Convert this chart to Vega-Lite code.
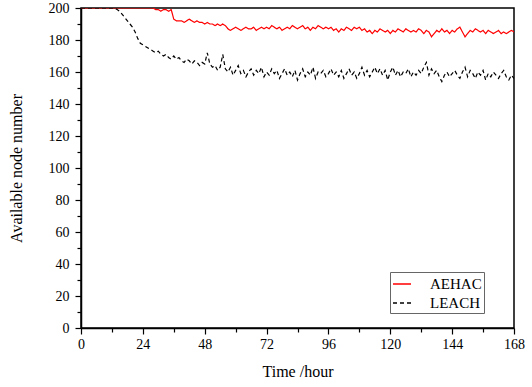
{
  "$schema": "https://vega.github.io/schema/vega-lite/v6.json",
  "autosize": "none",
  "width": 433,
  "height": 320,
  "padding": {"left": 81, "top": 8, "right": 18, "bottom": 59},
  "background": "white",
  "config": {
    "font": "Liberation Serif",
    "view": {"stroke": "black", "strokeWidth": 1.5},
    "axis": {"grid": false, "labelFlush": false, "labelOverlap": false, "domainColor": "black", "domainWidth": 1.5, "tickColor": "black", "tickWidth": 1.2, "labelColor": "black", "titleColor": "black", "labelFont": "Liberation Serif", "titleFont": "Liberation Serif", "labelFontSize": 14, "titleFontSize": 16, "titleFontWeight": "normal"}
  },
  "data": {"values": [
    {"t":0,"n":200,"s":"AEHAC"},{"t":28,"n":200,"s":"AEHAC"},{"t":29,"n":199,"s":"AEHAC"},{"t":30,"n":199,"s":"AEHAC"},{"t":31,"n":198,"s":"AEHAC"},{"t":32,"n":199,"s":"AEHAC"},{"t":33,"n":199,"s":"AEHAC"},{"t":34,"n":198,"s":"AEHAC"},{"t":35,"n":199,"s":"AEHAC"},
    {"t":36,"n":193,"s":"AEHAC"},{"t":37,"n":192,"s":"AEHAC"},{"t":38,"n":192,"s":"AEHAC"},{"t":39,"n":192,"s":"AEHAC"},{"t":40,"n":191,"s":"AEHAC"},{"t":41,"n":192,"s":"AEHAC"},{"t":42,"n":193,"s":"AEHAC"},{"t":43,"n":192,"s":"AEHAC"},{"t":44,"n":191,"s":"AEHAC"},{"t":45,"n":192,"s":"AEHAC"},
    {"t":46,"n":191,"s":"AEHAC"},{"t":47,"n":191,"s":"AEHAC"},{"t":48,"n":190,"s":"AEHAC"},{"t":49,"n":191,"s":"AEHAC"},{"t":50,"n":190,"s":"AEHAC"},{"t":51,"n":190,"s":"AEHAC"},{"t":52,"n":189,"s":"AEHAC"},{"t":53,"n":190,"s":"AEHAC"},{"t":54,"n":189,"s":"AEHAC"},{"t":55,"n":190,"s":"AEHAC"},
    {"t":56,"n":189,"s":"AEHAC"},{"t":57,"n":187,"s":"AEHAC"},{"t":58,"n":186,"s":"AEHAC"},{"t":59,"n":187,"s":"AEHAC"},{"t":60,"n":188,"s":"AEHAC"},{"t":61,"n":187,"s":"AEHAC"},{"t":62,"n":186,"s":"AEHAC"},{"t":63,"n":187,"s":"AEHAC"},{"t":64,"n":188,"s":"AEHAC"},{"t":65,"n":187,"s":"AEHAC"},
    {"t":66,"n":187,"s":"AEHAC"},{"t":67,"n":188,"s":"AEHAC"},{"t":68,"n":186,"s":"AEHAC"},{"t":69,"n":187,"s":"AEHAC"},{"t":70,"n":188,"s":"AEHAC"},{"t":71,"n":187,"s":"AEHAC"},{"t":72,"n":188,"s":"AEHAC"},{"t":73,"n":187,"s":"AEHAC"},{"t":74,"n":189,"s":"AEHAC"},{"t":75,"n":188,"s":"AEHAC"},
    {"t":76,"n":187,"s":"AEHAC"},{"t":77,"n":188,"s":"AEHAC"},{"t":78,"n":186,"s":"AEHAC"},{"t":79,"n":187,"s":"AEHAC"},{"t":80,"n":188,"s":"AEHAC"},{"t":81,"n":187,"s":"AEHAC"},{"t":82,"n":189,"s":"AEHAC"},{"t":83,"n":188,"s":"AEHAC"},{"t":84,"n":187,"s":"AEHAC"},{"t":85,"n":188,"s":"AEHAC"},
    {"t":86,"n":189,"s":"AEHAC"},{"t":87,"n":187,"s":"AEHAC"},{"t":88,"n":188,"s":"AEHAC"},{"t":89,"n":186,"s":"AEHAC"},{"t":90,"n":188,"s":"AEHAC"},{"t":91,"n":187,"s":"AEHAC"},{"t":92,"n":189,"s":"AEHAC"},{"t":93,"n":188,"s":"AEHAC"},{"t":94,"n":187,"s":"AEHAC"},{"t":95,"n":188,"s":"AEHAC"},
    {"t":96,"n":187,"s":"AEHAC"},{"t":97,"n":188,"s":"AEHAC"},{"t":98,"n":186,"s":"AEHAC"},{"t":99,"n":187,"s":"AEHAC"},{"t":100,"n":185,"s":"AEHAC"},{"t":101,"n":187,"s":"AEHAC"},{"t":102,"n":186,"s":"AEHAC"},{"t":103,"n":188,"s":"AEHAC"},{"t":104,"n":187,"s":"AEHAC"},{"t":105,"n":186,"s":"AEHAC"},
    {"t":106,"n":188,"s":"AEHAC"},{"t":107,"n":187,"s":"AEHAC"},{"t":108,"n":188,"s":"AEHAC"},{"t":109,"n":186,"s":"AEHAC"},{"t":110,"n":187,"s":"AEHAC"},{"t":111,"n":185,"s":"AEHAC"},{"t":112,"n":186,"s":"AEHAC"},{"t":113,"n":184,"s":"AEHAC"},{"t":114,"n":186,"s":"AEHAC"},{"t":115,"n":185,"s":"AEHAC"},
    {"t":116,"n":187,"s":"AEHAC"},{"t":117,"n":186,"s":"AEHAC"},{"t":118,"n":185,"s":"AEHAC"},{"t":119,"n":186,"s":"AEHAC"},{"t":120,"n":184,"s":"AEHAC"},{"t":121,"n":186,"s":"AEHAC"},{"t":122,"n":185,"s":"AEHAC"},{"t":123,"n":187,"s":"AEHAC"},{"t":124,"n":186,"s":"AEHAC"},{"t":125,"n":185,"s":"AEHAC"},
    {"t":126,"n":187,"s":"AEHAC"},{"t":127,"n":186,"s":"AEHAC"},{"t":128,"n":185,"s":"AEHAC"},{"t":129,"n":186,"s":"AEHAC"},{"t":130,"n":185,"s":"AEHAC"},{"t":131,"n":187,"s":"AEHAC"},{"t":132,"n":186,"s":"AEHAC"},{"t":133,"n":184,"s":"AEHAC"},{"t":134,"n":186,"s":"AEHAC"},{"t":135,"n":185,"s":"AEHAC"},
    {"t":136,"n":182,"s":"AEHAC"},{"t":137,"n":184,"s":"AEHAC"},{"t":138,"n":186,"s":"AEHAC"},{"t":139,"n":185,"s":"AEHAC"},{"t":140,"n":187,"s":"AEHAC"},{"t":141,"n":185,"s":"AEHAC"},{"t":142,"n":186,"s":"AEHAC"},{"t":143,"n":184,"s":"AEHAC"},{"t":144,"n":186,"s":"AEHAC"},{"t":145,"n":185,"s":"AEHAC"},
    {"t":146,"n":187,"s":"AEHAC"},{"t":147,"n":188,"s":"AEHAC"},{"t":148,"n":185,"s":"AEHAC"},{"t":149,"n":182,"s":"AEHAC"},{"t":150,"n":184,"s":"AEHAC"},{"t":151,"n":186,"s":"AEHAC"},{"t":152,"n":185,"s":"AEHAC"},{"t":153,"n":187,"s":"AEHAC"},{"t":154,"n":186,"s":"AEHAC"},{"t":155,"n":185,"s":"AEHAC"},
    {"t":156,"n":186,"s":"AEHAC"},{"t":157,"n":184,"s":"AEHAC"},{"t":158,"n":186,"s":"AEHAC"},{"t":159,"n":185,"s":"AEHAC"},{"t":160,"n":184,"s":"AEHAC"},{"t":161,"n":185,"s":"AEHAC"},{"t":162,"n":186,"s":"AEHAC"},{"t":163,"n":184,"s":"AEHAC"},{"t":164,"n":185,"s":"AEHAC"},{"t":165,"n":184,"s":"AEHAC"},
    {"t":166,"n":185,"s":"AEHAC"},{"t":167,"n":186,"s":"AEHAC"},{"t":168,"n":185,"s":"AEHAC"},
    {"t":0,"n":200,"s":"LEACH"},{"t":13,"n":200,"s":"LEACH"},{"t":14,"n":199,"s":"LEACH"},{"t":15,"n":198,"s":"LEACH"},{"t":16,"n":196,"s":"LEACH"},{"t":17,"n":194,"s":"LEACH"},{"t":18,"n":192,"s":"LEACH"},{"t":19,"n":190,"s":"LEACH"},{"t":20,"n":188,"s":"LEACH"},{"t":21,"n":185,"s":"LEACH"},
    {"t":22,"n":181,"s":"LEACH"},{"t":23,"n":178,"s":"LEACH"},{"t":24,"n":177,"s":"LEACH"},{"t":25,"n":176,"s":"LEACH"},{"t":26,"n":175,"s":"LEACH"},{"t":27,"n":174,"s":"LEACH"},{"t":28,"n":173,"s":"LEACH"},{"t":29,"n":172,"s":"LEACH"},{"t":30,"n":173,"s":"LEACH"},{"t":31,"n":171,"s":"LEACH"},
    {"t":32,"n":170,"s":"LEACH"},{"t":33,"n":171,"s":"LEACH"},{"t":34,"n":169,"s":"LEACH"},{"t":35,"n":168,"s":"LEACH"},{"t":36,"n":170,"s":"LEACH"},{"t":37,"n":168,"s":"LEACH"},{"t":38,"n":169,"s":"LEACH"},{"t":39,"n":167,"s":"LEACH"},{"t":40,"n":166,"s":"LEACH"},{"t":41,"n":168,"s":"LEACH"},
    {"t":42,"n":167,"s":"LEACH"},{"t":43,"n":165,"s":"LEACH"},{"t":44,"n":167,"s":"LEACH"},{"t":45,"n":166,"s":"LEACH"},{"t":46,"n":164,"s":"LEACH"},{"t":47,"n":166,"s":"LEACH"},{"t":48,"n":165,"s":"LEACH"},{"t":49,"n":172,"s":"LEACH"},{"t":50,"n":165,"s":"LEACH"},{"t":51,"n":163,"s":"LEACH"},
    {"t":52,"n":164,"s":"LEACH"},{"t":53,"n":161,"s":"LEACH"},{"t":54,"n":163,"s":"LEACH"},{"t":55,"n":171,"s":"LEACH"},{"t":56,"n":162,"s":"LEACH"},{"t":57,"n":160,"s":"LEACH"},{"t":58,"n":163,"s":"LEACH"},{"t":59,"n":158,"s":"LEACH"},{"t":60,"n":161,"s":"LEACH"},{"t":61,"n":164,"s":"LEACH"},
    {"t":62,"n":159,"s":"LEACH"},{"t":63,"n":161,"s":"LEACH"},{"t":64,"n":157,"s":"LEACH"},{"t":65,"n":160,"s":"LEACH"},{"t":66,"n":162,"s":"LEACH"},{"t":67,"n":158,"s":"LEACH"},{"t":68,"n":161,"s":"LEACH"},{"t":69,"n":159,"s":"LEACH"},{"t":70,"n":163,"s":"LEACH"},{"t":71,"n":157,"s":"LEACH"},
    {"t":72,"n":160,"s":"LEACH"},{"t":73,"n":158,"s":"LEACH"},{"t":74,"n":162,"s":"LEACH"},{"t":75,"n":159,"s":"LEACH"},{"t":76,"n":161,"s":"LEACH"},{"t":77,"n":156,"s":"LEACH"},{"t":78,"n":159,"s":"LEACH"},{"t":79,"n":162,"s":"LEACH"},{"t":80,"n":158,"s":"LEACH"},{"t":81,"n":160,"s":"LEACH"},
    {"t":82,"n":157,"s":"LEACH"},{"t":83,"n":161,"s":"LEACH"},{"t":84,"n":155,"s":"LEACH"},{"t":85,"n":159,"s":"LEACH"},{"t":86,"n":162,"s":"LEACH"},{"t":87,"n":157,"s":"LEACH"},{"t":88,"n":160,"s":"LEACH"},{"t":89,"n":158,"s":"LEACH"},{"t":90,"n":163,"s":"LEACH"},{"t":91,"n":156,"s":"LEACH"},
    {"t":92,"n":160,"s":"LEACH"},{"t":93,"n":159,"s":"LEACH"},{"t":94,"n":161,"s":"LEACH"},{"t":95,"n":157,"s":"LEACH"},{"t":96,"n":159,"s":"LEACH"},{"t":97,"n":162,"s":"LEACH"},{"t":98,"n":158,"s":"LEACH"},{"t":99,"n":160,"s":"LEACH"},{"t":100,"n":157,"s":"LEACH"},{"t":101,"n":161,"s":"LEACH"},
    {"t":102,"n":156,"s":"LEACH"},{"t":103,"n":159,"s":"LEACH"},{"t":104,"n":162,"s":"LEACH"},{"t":105,"n":158,"s":"LEACH"},{"t":106,"n":160,"s":"LEACH"},{"t":107,"n":156,"s":"LEACH"},{"t":108,"n":159,"s":"LEACH"},{"t":109,"n":163,"s":"LEACH"},{"t":110,"n":158,"s":"LEACH"},{"t":111,"n":161,"s":"LEACH"},
    {"t":112,"n":157,"s":"LEACH"},{"t":113,"n":160,"s":"LEACH"},{"t":114,"n":163,"s":"LEACH"},{"t":115,"n":159,"s":"LEACH"},{"t":116,"n":162,"s":"LEACH"},{"t":117,"n":158,"s":"LEACH"},{"t":118,"n":161,"s":"LEACH"},{"t":119,"n":155,"s":"LEACH"},{"t":120,"n":160,"s":"LEACH"},{"t":121,"n":163,"s":"LEACH"},
    {"t":122,"n":158,"s":"LEACH"},{"t":123,"n":161,"s":"LEACH"},{"t":124,"n":157,"s":"LEACH"},{"t":125,"n":160,"s":"LEACH"},{"t":126,"n":159,"s":"LEACH"},{"t":127,"n":162,"s":"LEACH"},{"t":128,"n":157,"s":"LEACH"},{"t":129,"n":160,"s":"LEACH"},{"t":130,"n":158,"s":"LEACH"},{"t":131,"n":161,"s":"LEACH"},
    {"t":132,"n":159,"s":"LEACH"},{"t":133,"n":163,"s":"LEACH"},{"t":134,"n":166,"s":"LEACH"},{"t":135,"n":158,"s":"LEACH"},{"t":136,"n":162,"s":"LEACH"},{"t":137,"n":159,"s":"LEACH"},{"t":138,"n":161,"s":"LEACH"},{"t":139,"n":157,"s":"LEACH"},{"t":140,"n":154,"s":"LEACH"},{"t":141,"n":158,"s":"LEACH"},
    {"t":142,"n":160,"s":"LEACH"},{"t":143,"n":157,"s":"LEACH"},{"t":144,"n":159,"s":"LEACH"},{"t":145,"n":161,"s":"LEACH"},{"t":146,"n":158,"s":"LEACH"},{"t":147,"n":156,"s":"LEACH"},{"t":148,"n":160,"s":"LEACH"},{"t":149,"n":163,"s":"LEACH"},{"t":150,"n":157,"s":"LEACH"},{"t":151,"n":161,"s":"LEACH"},
    {"t":152,"n":159,"s":"LEACH"},{"t":153,"n":156,"s":"LEACH"},{"t":154,"n":160,"s":"LEACH"},{"t":155,"n":158,"s":"LEACH"},{"t":156,"n":161,"s":"LEACH"},{"t":157,"n":155,"s":"LEACH"},{"t":158,"n":159,"s":"LEACH"},{"t":159,"n":157,"s":"LEACH"},{"t":160,"n":160,"s":"LEACH"},{"t":161,"n":158,"s":"LEACH"},
    {"t":162,"n":156,"s":"LEACH"},{"t":163,"n":159,"s":"LEACH"},{"t":164,"n":161,"s":"LEACH"},{"t":165,"n":157,"s":"LEACH"},{"t":166,"n":155,"s":"LEACH"},{"t":167,"n":158,"s":"LEACH"},{"t":168,"n":156,"s":"LEACH"}
  ]},
  "mark": {"type": "line", "strokeWidth": 1.2, "clip": true},
  "encoding": {
    "x": {"field": "t", "type": "quantitative", "scale": {"domain": [0, 168], "nice": false},
      "axis": {"title": "Time /hour", "titlePadding": 12, "values": [0,12,24,36,48,60,72,84,96,108,120,132,144,156,168],
        "labelExpr": "datum.value % 24 === 0 ? datum.label : ''", "labelPadding": 3,
        "tickSize": {"condition": {"test": "datum.value % 24 === 0", "value": 6}, "value": 4}}},
    "y": {"field": "n", "type": "quantitative", "scale": {"domain": [0, 200], "nice": false},
      "axis": {"title": "Available node number", "titlePadding": 24, "values": [0,10,20,30,40,50,60,70,80,90,100,110,120,130,140,150,160,170,180,190,200],
        "labelExpr": "datum.value % 20 === 0 ? datum.label : ''", "labelPadding": 6,
        "tickSize": {"condition": {"test": "datum.value % 20 === 0", "value": 6}, "value": 4}}},
    "color": {"field": "s", "type": "nominal", "scale": {"domain": ["AEHAC", "LEACH"], "range": ["#ff0000", "#000000"]},
      "legend": {"title": null, "orient": "none", "legendX": 309, "legendY": 264, "symbolType": "stroke", "symbolSize": 324, "symbolStrokeWidth": 1.3,
        "labelFont": "Liberation Serif", "labelFontSize": 15, "labelColor": "black", "strokeColor": "#666", "padding": 2, "rowPadding": 1, "labelOffset": 18}},
    "strokeDash": {"field": "s", "type": "nominal", "scale": {"domain": ["AEHAC", "LEACH"], "range": [[1, 0], [4, 3]]}}
  }
}
